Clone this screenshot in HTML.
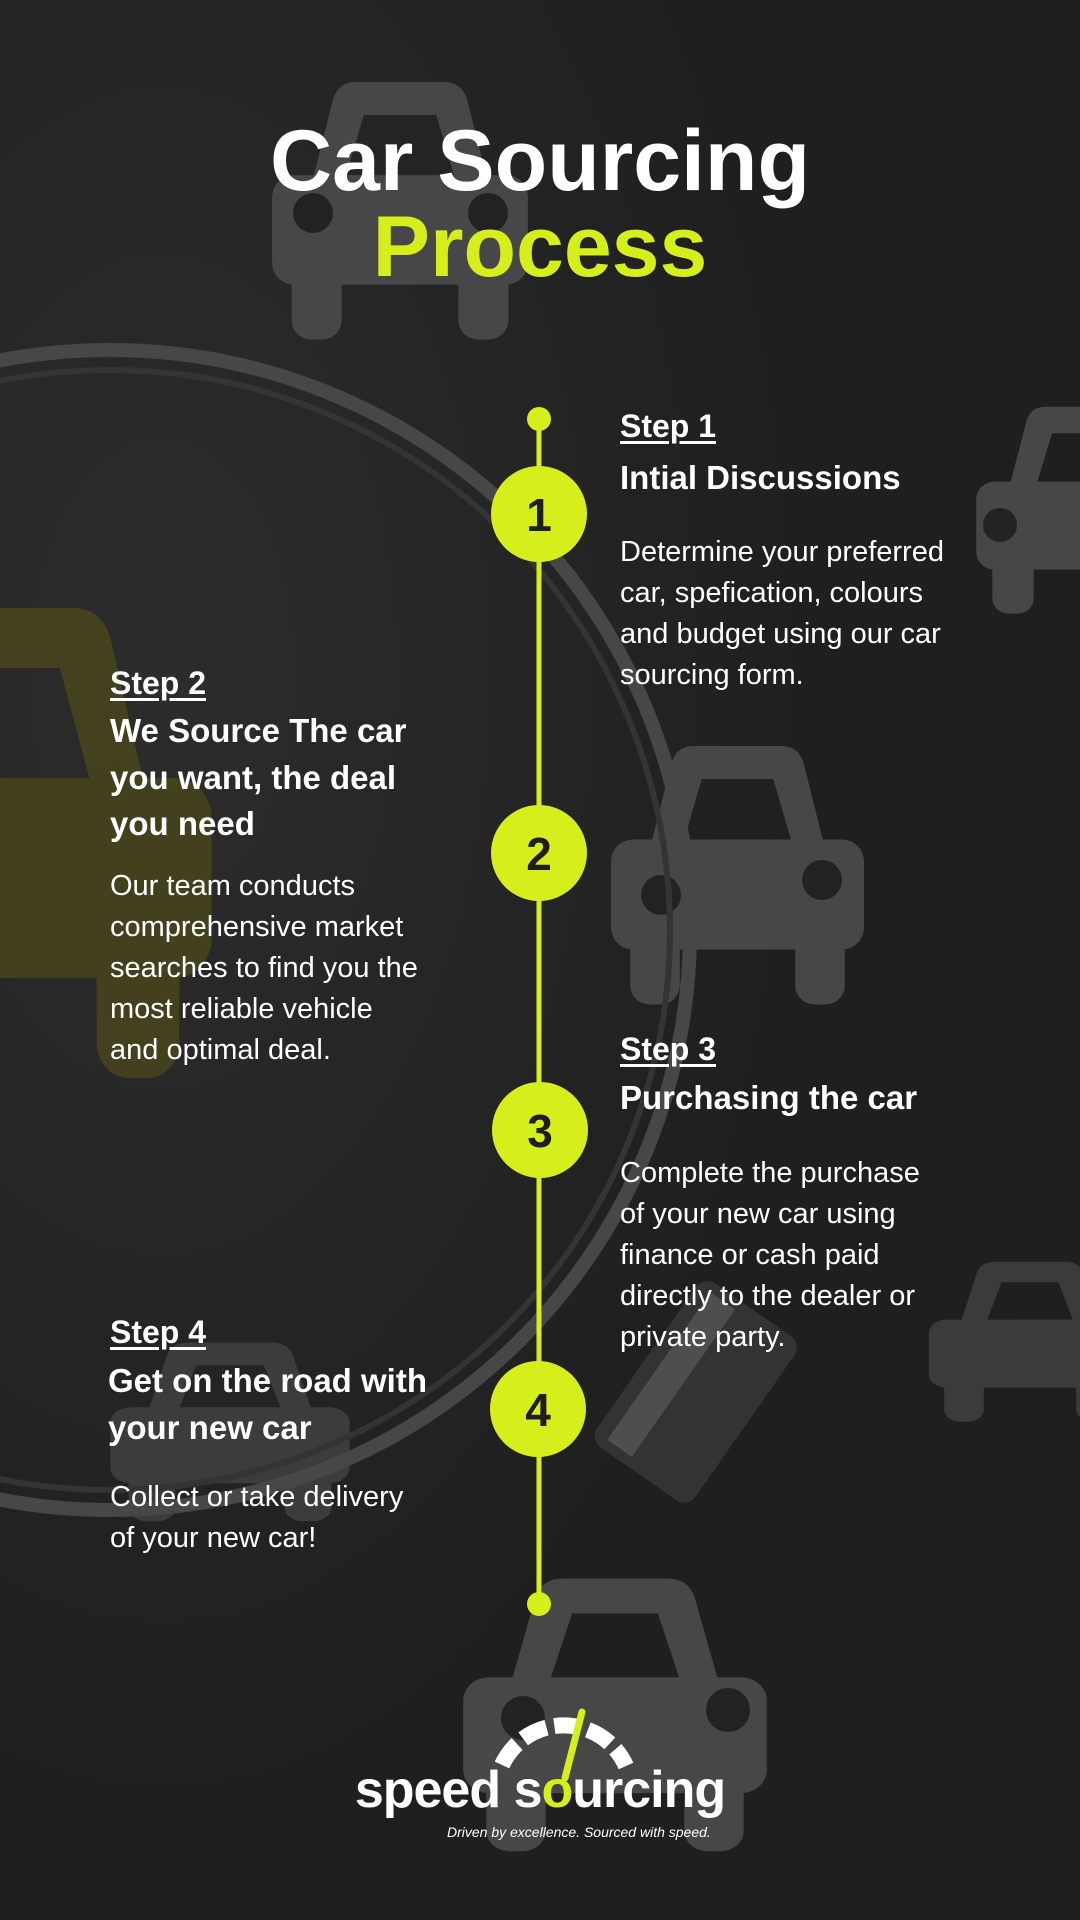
<!DOCTYPE html>
<html><head><meta charset="utf-8"><style>
body{margin:0;width:1080px;height:1920px;background:#222222;overflow:hidden;position:relative;font-family:"Liberation Sans",sans-serif;color:#fff}
.t{position:absolute;white-space:nowrap;line-height:1}
.step{font-size:32px;font-weight:bold;text-decoration:underline;text-underline-offset:4px}
.h{font-size:33px;font-weight:bold}
.d{font-size:29px}
svg{position:absolute;left:0;top:0}
</style></head><body>
<svg width="1080" height="1920" viewBox="0 0 1080 1920">
<defs>
<g id="car">
<path d="M18,42 L26,10 Q28,4 34,4 L66,4 Q72,4 74,10 L82,42 Z M30,40 L70,40 L63,16 L37,16 Z" fill-rule="evenodd"/>
<rect x="4" y="38" width="92" height="40" rx="8"/>
<rect x="11" y="70" width="18" height="28" rx="7"/>
<rect x="71" y="70" width="18" height="28" rx="7"/>
</g>
<radialGradient id="bg" cx="0.15" cy="0.35" r="0.6"><stop offset="0" stop-color="#2c2c2c"/><stop offset="1" stop-color="#1f1f1f"/></radialGradient>
</defs>
<rect width="1080" height="1920" fill="url(#bg)"/>
<g fill="#474747">
<use href="#car" transform="translate(261,71) scale(2.78,2.74)"/>
<use href="#car" transform="translate(600,735) scale(2.75,2.75)"/>
<use href="#car" transform="translate(967,398) scale(2.3,2.2)"/>
<use href="#car" transform="translate(450,1567) scale(3.3,2.9)"/>
<use href="#car" transform="translate(100,1335) scale(2.6,1.9)" opacity="0.7"/>
<use href="#car" transform="translate(920,1255) scale(2.2,1.7)" opacity="0.7"/>
</g>
<use href="#car" transform="translate(-230,588) scale(4.6,5.0)" fill="#48451c" opacity="0.85"/>
<g fill="#222">
<circle cx="313" cy="213" r="20"/><circle cx="488" cy="213" r="20"/>
<circle cx="661" cy="895" r="20"/><circle cx="822" cy="880" r="20"/>
<circle cx="1000" cy="525" r="17"/>
<circle cx="523" cy="1718" r="22"/><circle cx="728" cy="1710" r="22"/>
</g>
<circle cx="110" cy="930" r="580" fill="none" stroke="#474747" stroke-width="14"/>
<circle cx="110" cy="930" r="560" fill="none" stroke="#343434" stroke-width="6"/>
<g transform="rotate(35 690 1400)"><rect x="630" y="1290" width="120" height="200" rx="14" fill="#333"/><rect x="645" y="1300" width="30" height="180" fill="#4e4e4e"/></g>
<line x1="539" y1="419" x2="539" y2="1604" stroke="#d7ee1d" stroke-width="5"/>
<circle cx="539" cy="419" r="12" fill="#d7ee1d"/>
<circle cx="539" cy="1604" r="12" fill="#d7ee1d"/>
<g fill="#d7ee1d"><circle cx="539" cy="514" r="48"/><circle cx="539" cy="853" r="48"/><circle cx="540" cy="1130" r="48"/><circle cx="538" cy="1409" r="48"/></g>
<g fill="#1e1e1e" font-family="Liberation Sans,sans-serif" font-weight="bold" font-size="46" text-anchor="middle">
<text x="539" y="531">1</text><text x="539" y="870">2</text><text x="540" y="1147">3</text><text x="538" y="1426">4</text></g>
<g fill="none" stroke="#fff" stroke-width="16" stroke-dasharray="26 8">
<path d="M502,1765 A68,68 0 0 1 626,1766"/></g>
<line x1="565" y1="1778" x2="582" y2="1712" stroke="#d7ee1d" stroke-width="7" stroke-linecap="round"/>
</svg>
<div class="t" style="left:0;width:1080px;text-align:center;top:118px;font-size:86px;font-weight:bold">Car Sourcing</div>
<div class="t" style="left:0;width:1080px;text-align:center;top:204px;font-size:86px;font-weight:bold;color:#d7ee1d">Process</div>

<div class="t step" style="left:620px;top:410px">Step 1</div>
<div class="t h" style="left:620px;top:461px">Intial Discussions</div>
<div class="t d" style="left:620px;top:532px;line-height:41px;white-space:normal">Determine your preferred<br>car, spefication, colours<br>and budget using our car<br>sourcing form.</div>

<div class="t step" style="left:110px;top:667px">Step 2</div>
<div class="t h" style="left:110px;top:708px;line-height:46.5px">We Source The car<br>you want, the deal<br>you need</div>
<div class="t d" style="left:110px;top:866px;line-height:41px">Our team conducts<br>comprehensive market<br>searches to find you the<br>most reliable vehicle<br>and optimal deal.</div>

<div class="t step" style="left:620px;top:1033px">Step 3</div>
<div class="t h" style="left:620px;top:1081px">Purchasing the car</div>
<div class="t d" style="left:620px;top:1153px;line-height:41px">Complete the purchase<br>of your new car using<br>finance or cash paid<br>directly to the dealer or<br>private party.</div>

<div class="t step" style="left:110px;top:1316px">Step 4</div>
<div class="t h" style="left:108px;top:1357px;line-height:47px">Get on the road with<br>your new car</div>
<div class="t d" style="left:110px;top:1477px;line-height:41px">Collect or take delivery<br>of your new car!</div>

<div class="t" style="left:0;width:1080px;text-align:center;top:1764px;font-size:52px;font-weight:bold;letter-spacing:-1px">speed s<span style="color:#d7ee1d">o</span>urcing</div>
<div class="t" style="left:447px;top:1825px;font-size:14px;font-style:italic">Driven by excellence. Sourced with speed.</div>
</body></html>
